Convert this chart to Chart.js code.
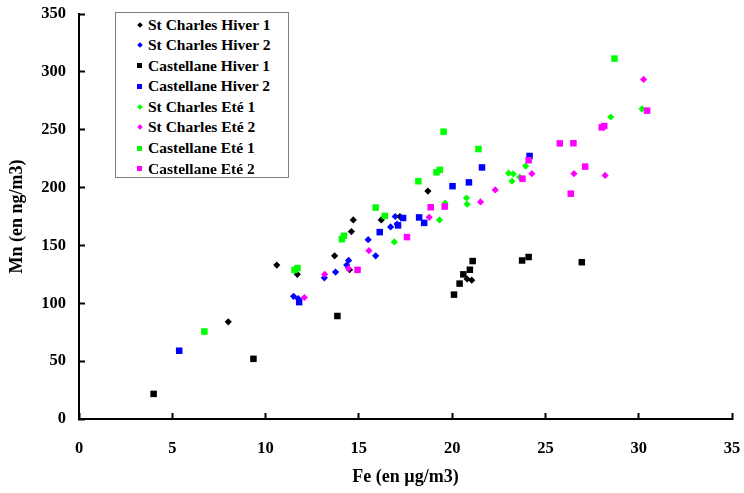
<!DOCTYPE html>
<html>
<head>
<meta charset="utf-8">
<script src="https://cdn.jsdelivr.net/npm/chart.js@4/dist/chart.umd.min.js"></script>
<style>
  body { margin: 0; background: #fff; }
  #wrap { position: relative; width: 744px; height: 493px; }
  #legend {
    position: absolute; left: 115px; top: 12px; width: 172px; height: 162px;
    border: 1px solid #808080; background: #fff; padding-top: 1.5px; box-sizing: content-box;
    font: bold 15.5px "Liberation Serif", "Times New Roman", serif; color: #000;
  }
  #legend .row { height: 20.6px; line-height: 20.6px; position: relative; white-space: nowrap; }
  #legend .mk { position: absolute; left: 21px; top: 7.5px; width: 5px; height: 5px; }
  #legend .mk.dia { width: 4px; height: 4px; top: 8px; left: 21.5px; transform: rotate(45deg); }
  #legend .txt { position: absolute; left: 32px; top: 0; }
</style>
</head>
<body>
<div id="wrap">
  <canvas id="chart"></canvas>
  <div id="legend"></div>
</div>
<script>
// Fe (µg/m3) and Mn (ng/m3) for each site / campaign
var stCharlesHiver1Fe = [8.0, 10.6, 11.7, 13.7, 14.5, 14.6, 14.7, 16.2, 17.2, 18.7, 20.8, 21.05];
var stCharlesHiver1Mn = [84, 133, 125, 141, 129, 162, 172, 172, 175, 197, 121, 120];

var stCharlesHiver2Fe = [11.5, 11.75, 13.15, 13.75, 14.35, 14.45, 15.5, 15.9, 16.7, 16.95, 17.05];
var stCharlesHiver2Mn = [106, 104, 122, 127, 133, 137, 155, 141, 166, 175, 168.5];

var castellaneHiver1Fe = [4.0, 9.35, 13.85, 20.1, 20.4, 20.6, 20.95, 21.1, 23.75, 24.1, 26.95];
var castellaneHiver1Mn = [21.7, 52, 89, 107.5, 117, 125, 129, 136.5, 137, 140, 135.5];

var castellaneHiver2Fe = [5.37, 11.8, 16.12, 17.1, 17.37, 18.23, 18.5, 20.02, 20.9, 21.6, 24.15];
var castellaneHiver2Mn = [59, 101, 161.5, 167.3, 173.7, 174.2, 169.5, 201.2, 204.5, 217.4, 227.3];

var stCharlesEte1Fe = [16.9, 19.32, 19.62, 20.77, 20.8, 23.03, 23.27, 23.21, 23.62, 23.94, 28.5, 30.18];
var stCharlesEte1Mn = [153, 172, 186.5, 191, 185.6, 212.4, 211.8, 205.5, 209, 218.6, 261, 268];

var stCharlesEte2Fe = [12.08, 13.17, 14.44, 15.54, 18.77, 21.52, 22.31, 24.27, 26.53, 28.2, 30.26];
var stCharlesEte2Mn = [105, 125, 130, 145.5, 174.3, 187.6, 198, 212, 212, 210.5, 293.5];

var castellaneEte1Fe = [6.72, 11.55, 11.71, 14.09, 14.2, 15.9, 16.39, 18.19, 19.16, 19.34, 19.54, 21.41, 28.7];
var castellaneEte1Mn = [75.6, 128.8, 130.4, 155.4, 158.3, 182.7, 175.5, 205.5, 213.2, 215.3, 248.3, 233.3, 311.5];

var castellaneEte2Fe = [14.93, 17.58, 18.85, 19.6, 23.77, 24.1, 25.77, 26.5, 26.36, 27.13, 28.02, 28.15, 30.45];
var castellaneEte2Mn = [128.9, 157.2, 183, 183.6, 207.7, 223.6, 238.2, 238.3, 194.7, 218.1, 252, 253.2, 266.5];

var seriesNames = ['St Charles Hiver 1', 'St Charles Hiver 2', 'Castellane Hiver 1', 'Castellane Hiver 2',
                   'St Charles Eté 1', 'St Charles Eté 2', 'Castellane Eté 1', 'Castellane Eté 2'];
var seriesFe = [stCharlesHiver1Fe, stCharlesHiver2Fe, castellaneHiver1Fe, castellaneHiver2Fe,
                stCharlesEte1Fe, stCharlesEte2Fe, castellaneEte1Fe, castellaneEte2Fe];
var seriesMn = [stCharlesHiver1Mn, stCharlesHiver2Mn, castellaneHiver1Mn, castellaneHiver2Mn,
                stCharlesEte1Mn, stCharlesEte2Mn, castellaneEte1Mn, castellaneEte2Mn];
var seriesColors = ['#000000', '#0000ff', '#000000', '#0000ff', '#00ff00', '#ff00ff', '#00ff00', '#ff00ff'];
var seriesShapes = ['rectRot', 'rectRot', 'rect', 'rect', 'rectRot', 'rectRot', 'rect', 'rect'];

var xTicks = [0, 5, 10, 15, 20, 25, 30, 35];
var yTicks = [0, 50, 100, 150, 200, 250, 300, 350];

var serif = '"Liberation Serif", "Times New Roman", serif';

var datasets = seriesNames.map(function (name, i) {
  var pts = seriesFe[i].map(function (fe, j) { return { x: fe, y: seriesMn[i][j] }; });
  var dia = seriesShapes[i] === 'rectRot';
  return {
    label: name,
    data: pts,
    pointStyle: seriesShapes[i],
    pointRadius: dia ? 3.6 : 4.6,
    borderWidth: 0,
    backgroundColor: seriesColors[i],
    borderColor: seriesColors[i],
    order: seriesNames.length - 1 - i   // later series sit on top
  };
});

// legend box
var leg = document.getElementById('legend');
seriesNames.forEach(function (name, i) {
  var row = document.createElement('div');
  row.className = 'row';
  var mk = document.createElement('span');
  mk.className = 'mk' + (seriesShapes[i] === 'rectRot' ? ' dia' : '');
  mk.style.background = seriesColors[i];
  var txt = document.createElement('span');
  txt.className = 'txt';
  txt.textContent = name;
  row.appendChild(mk);
  row.appendChild(txt);
  leg.appendChild(row);
});

new Chart(document.getElementById('chart'), {
  type: 'scatter',
  data: { datasets: datasets },
  options: {
    responsive: true,
    maintainAspectRatio: false,
    animation: false,
    layout: { padding: { top: 14, right: 12, left: 0, bottom: 0 } },
    plugins: { legend: { display: false }, tooltip: { enabled: false } },
    scales: {
      x: {
        type: 'linear',
        min: 0, max: 35,
        afterBuildTicks: function (s) { s.ticks = xTicks.map(function (v) { return { value: v }; }); },
        afterFit: function (s) { s.height = 74; s.paddingLeft = 0; s.paddingRight = 0; },
        border: { color: '#000', width: 2 },
        grid: { drawOnChartArea: false, drawTicks: true, tickLength: -6, tickWidth: 2, tickColor: '#000' },
        ticks: { color: '#000', padding: 26, font: { family: serif, size: 16.5, weight: 'bold' } },
        title: { display: true, text: 'Fe (en µg/m3)', color: '#000', padding: { top: 0, bottom: 5 },
                 font: { family: serif, size: 18, weight: 'bold' } }
      },
      y: {
        type: 'linear',
        min: 0, max: 350,
        afterBuildTicks: function (s) { s.ticks = yTicks.map(function (v) { return { value: v }; }); },
        afterFit: function (s) { s.width = 79; s.paddingTop = 0; s.paddingBottom = 0; },
        border: { color: '#000', width: 2 },
        grid: { drawOnChartArea: false, drawTicks: true, tickLength: -6, tickWidth: 2, tickColor: '#000' },
        ticks: { color: '#000', padding: 19, font: { family: serif, size: 16.5, weight: 'bold' } },
        title: { display: true, text: 'Mn (en ng/m3)', color: '#000', padding: { top: 7, bottom: 0 },
                 font: { family: serif, size: 18, weight: 'bold' } }
      }
    }
  }
});
</script>
</body>
</html>
